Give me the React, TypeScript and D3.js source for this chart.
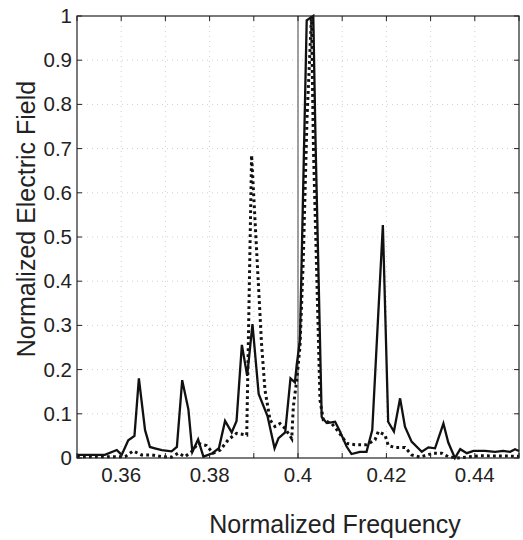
import React from "react";
import * as d3 from "d3";

const solidFreq = [
  0.35, 0.3563, 0.359, 0.3601, 0.3616, 0.363, 0.364, 0.3654, 0.3665, 0.3676,
  0.3692, 0.3714, 0.3726, 0.3738, 0.3752, 0.3761, 0.3774, 0.3786, 0.3805, 0.3821,
  0.3835, 0.385, 0.3861, 0.3873, 0.3885, 0.3897, 0.3911, 0.3931, 0.3947, 0.3956,
  0.3971, 0.3983, 0.3993, 0.3997, 0.40045, 0.40197, 0.40346, 0.40396, 0.40536, 0.4065,
  0.4084, 0.4095, 0.411, 0.4121, 0.414, 0.4155, 0.4168, 0.4192, 0.4204, 0.4217,
  0.4231, 0.4242, 0.4257, 0.428, 0.4295, 0.431, 0.4329, 0.434, 0.4355, 0.4367,
  0.4382, 0.4397, 0.4423, 0.4446, 0.4464, 0.448, 0.4491, 0.45,
];
const solidVal = [
  0.007, 0.007, 0.018, 0.007, 0.04, 0.05, 0.18, 0.063, 0.025, 0.022,
  0.018, 0.015, 0.025, 0.176, 0.11, 0.014, 0.042, 0.003, 0.01, 0.022,
  0.084, 0.058, 0.084, 0.256, 0.186, 0.303, 0.145, 0.095, 0.022, 0.045,
  0.058, 0.18, 0.171, 0.21, 0.267, 0.99, 1.0, 0.72, 0.093, 0.079,
  0.082, 0.06, 0.026, 0.009, 0.014, 0.014, 0.063, 0.527, 0.082, 0.06,
  0.135, 0.071, 0.037, 0.014, 0.024, 0.022, 0.078, 0.035, 0.0, 0.02,
  0.011, 0.016, 0.016, 0.014, 0.016, 0.014, 0.02, 0.016,
];

const dottedFreq = [
  0.35, 0.3609, 0.3627, 0.3646, 0.3669, 0.3692, 0.3714, 0.3729, 0.3744, 0.3759,
  0.3774, 0.3793, 0.3808, 0.3824, 0.3842, 0.3861, 0.3884, 0.3895, 0.39174, 0.39253,
  0.39367, 0.3948, 0.39593, 0.39706, 0.39858, 0.39894, 0.39971, 0.40045, 0.4012, 0.40204,
  0.40305, 0.4035, 0.40498, 0.40572, 0.40762, 0.40912, 0.41102, 0.4129, 0.41554, 0.41742,
  0.41817, 0.41968, 0.42043, 0.42195, 0.42421, 0.42572, 0.4276, 0.43061, 0.43251, 0.434,
  0.4359, 0.44118, 0.45,
];
const dottedVal = [
  0.003, 0.003, 0.016, 0.007, 0.007, 0.003, 0.002, 0.011, 0.003, 0.014,
  0.033, 0.028, 0.011, 0.018, 0.041, 0.056, 0.052, 0.685, 0.26, 0.154,
  0.086, 0.071, 0.078, 0.067, 0.044, 0.116, 0.176, 0.252, 0.45, 0.77,
  1.0, 0.7, 0.131, 0.086, 0.078, 0.06, 0.033, 0.03, 0.03, 0.041,
  0.06, 0.052, 0.028, 0.024, 0.024, 0.007, 0.002, 0.011, 0.011, 0.003,
  0.0, 0.005, 0.004,
];

const xTicks = [0.35, 0.36, 0.37, 0.38, 0.39, 0.4, 0.41, 0.42, 0.43, 0.44, 0.45];
const xTickLabels = [0.36, 0.38, 0.4, 0.42, 0.44];
const yTicks = [0, 0.1, 0.2, 0.3, 0.4, 0.5, 0.6, 0.7, 0.8, 0.9, 1];
const markerFreq = 0.4;

const W = 523;
const H = 540;
const L = 77, R = 519, T = 16, B = 458;
const FONT = "'Liberation Sans', Arial, Helvetica, sans-serif";

export default function App() {
  const x = d3.scaleLinear().domain([0.35, 0.45]).range([L, R]);
  const y = d3.scaleLinear().domain([0, 1]).range([B, T]);
  const line = d3
    .line<[number, number]>()
    .x((d) => x(d[0]))
    .y((d) => y(d[1]));
  const solidPts = solidFreq.map((f, i) => [f, solidVal[i]] as [number, number]);
  const dottedPts = dottedFreq.map((f, i) => [f, dottedVal[i]] as [number, number]);
  const fmt = (v: number) => String(+v.toFixed(2));
  const tl = 5;

  return (
    <svg
      width={W}
      height={H}
      style={{ position: "absolute", left: 0, top: 0, background: "#fff" }}
    >
      <rect x={0} y={0} width={W} height={H} fill="#fff" />
      {/* grid */}
      <g stroke="#cfcfcf" strokeWidth={1} strokeDasharray="1 4">
        {xTicks.slice(1, -1).map((t) => (
          <line key={"gx" + t} x1={x(t)} x2={x(t)} y1={T} y2={B} />
        ))}
        {yTicks.slice(1, -1).map((t) => (
          <line key={"gy" + t} x1={L} x2={R} y1={y(t)} y2={y(t)} />
        ))}
      </g>
      {/* marker vertical line */}
      <line
        x1={x(markerFreq)}
        x2={x(markerFreq)}
        y1={T}
        y2={B}
        stroke="#808080"
        strokeWidth={1.5}
      />
      {/* series */}
      <path
        d={line(dottedPts) || ""}
        fill="none"
        stroke="#111"
        strokeWidth={3}
        strokeDasharray="2.8 3.2"
      />
      <path
        d={line(solidPts) || ""}
        fill="none"
        stroke="#111"
        strokeWidth={2.3}
        strokeLinejoin="miter"
      />
      {/* ticks */}
      <g stroke="#222" strokeWidth={1}>
        {xTicks.map((t) => (
          <g key={"tx" + t}>
            <line x1={x(t)} x2={x(t)} y1={B} y2={B - tl} />
            <line x1={x(t)} x2={x(t)} y1={T} y2={T + tl} />
          </g>
        ))}
        {yTicks.map((t) => (
          <g key={"ty" + t}>
            <line x1={L} x2={L + tl} y1={y(t)} y2={y(t)} />
            <line x1={R} x2={R - tl} y1={y(t)} y2={y(t)} />
          </g>
        ))}
      </g>
      {/* frame */}
      <rect
        x={L}
        y={T}
        width={R - L}
        height={B - T}
        fill="none"
        stroke="#222"
        strokeWidth={1.2}
      />
      {/* tick labels */}
      <g fontFamily={FONT} fontSize={20.5} fill="#222">
        {xTickLabels.map((t) => (
          <text key={"lx" + t} x={x(t)} y={482} textAnchor="middle">
            {fmt(t)}
          </text>
        ))}
        {yTicks.map((t) => (
          <text
            key={"ly" + t}
            x={72}
            y={y(t) + 7}
            textAnchor="end"
          >
            {fmt(t)}
          </text>
        ))}
      </g>
      {/* axis labels */}
      <text
        x={335}
        y={533}
        textAnchor="middle"
        fontFamily={FONT}
        fontSize={25}
        fill="#222"
      >
        Normalized Frequency
      </text>
      <text
        transform={`translate(35, 219) rotate(-90)`}
        textAnchor="middle"
        fontFamily={FONT}
        fontSize={25}
        fill="#222"
      >
        Normalized Electric Field
      </text>
    </svg>
  );
}
